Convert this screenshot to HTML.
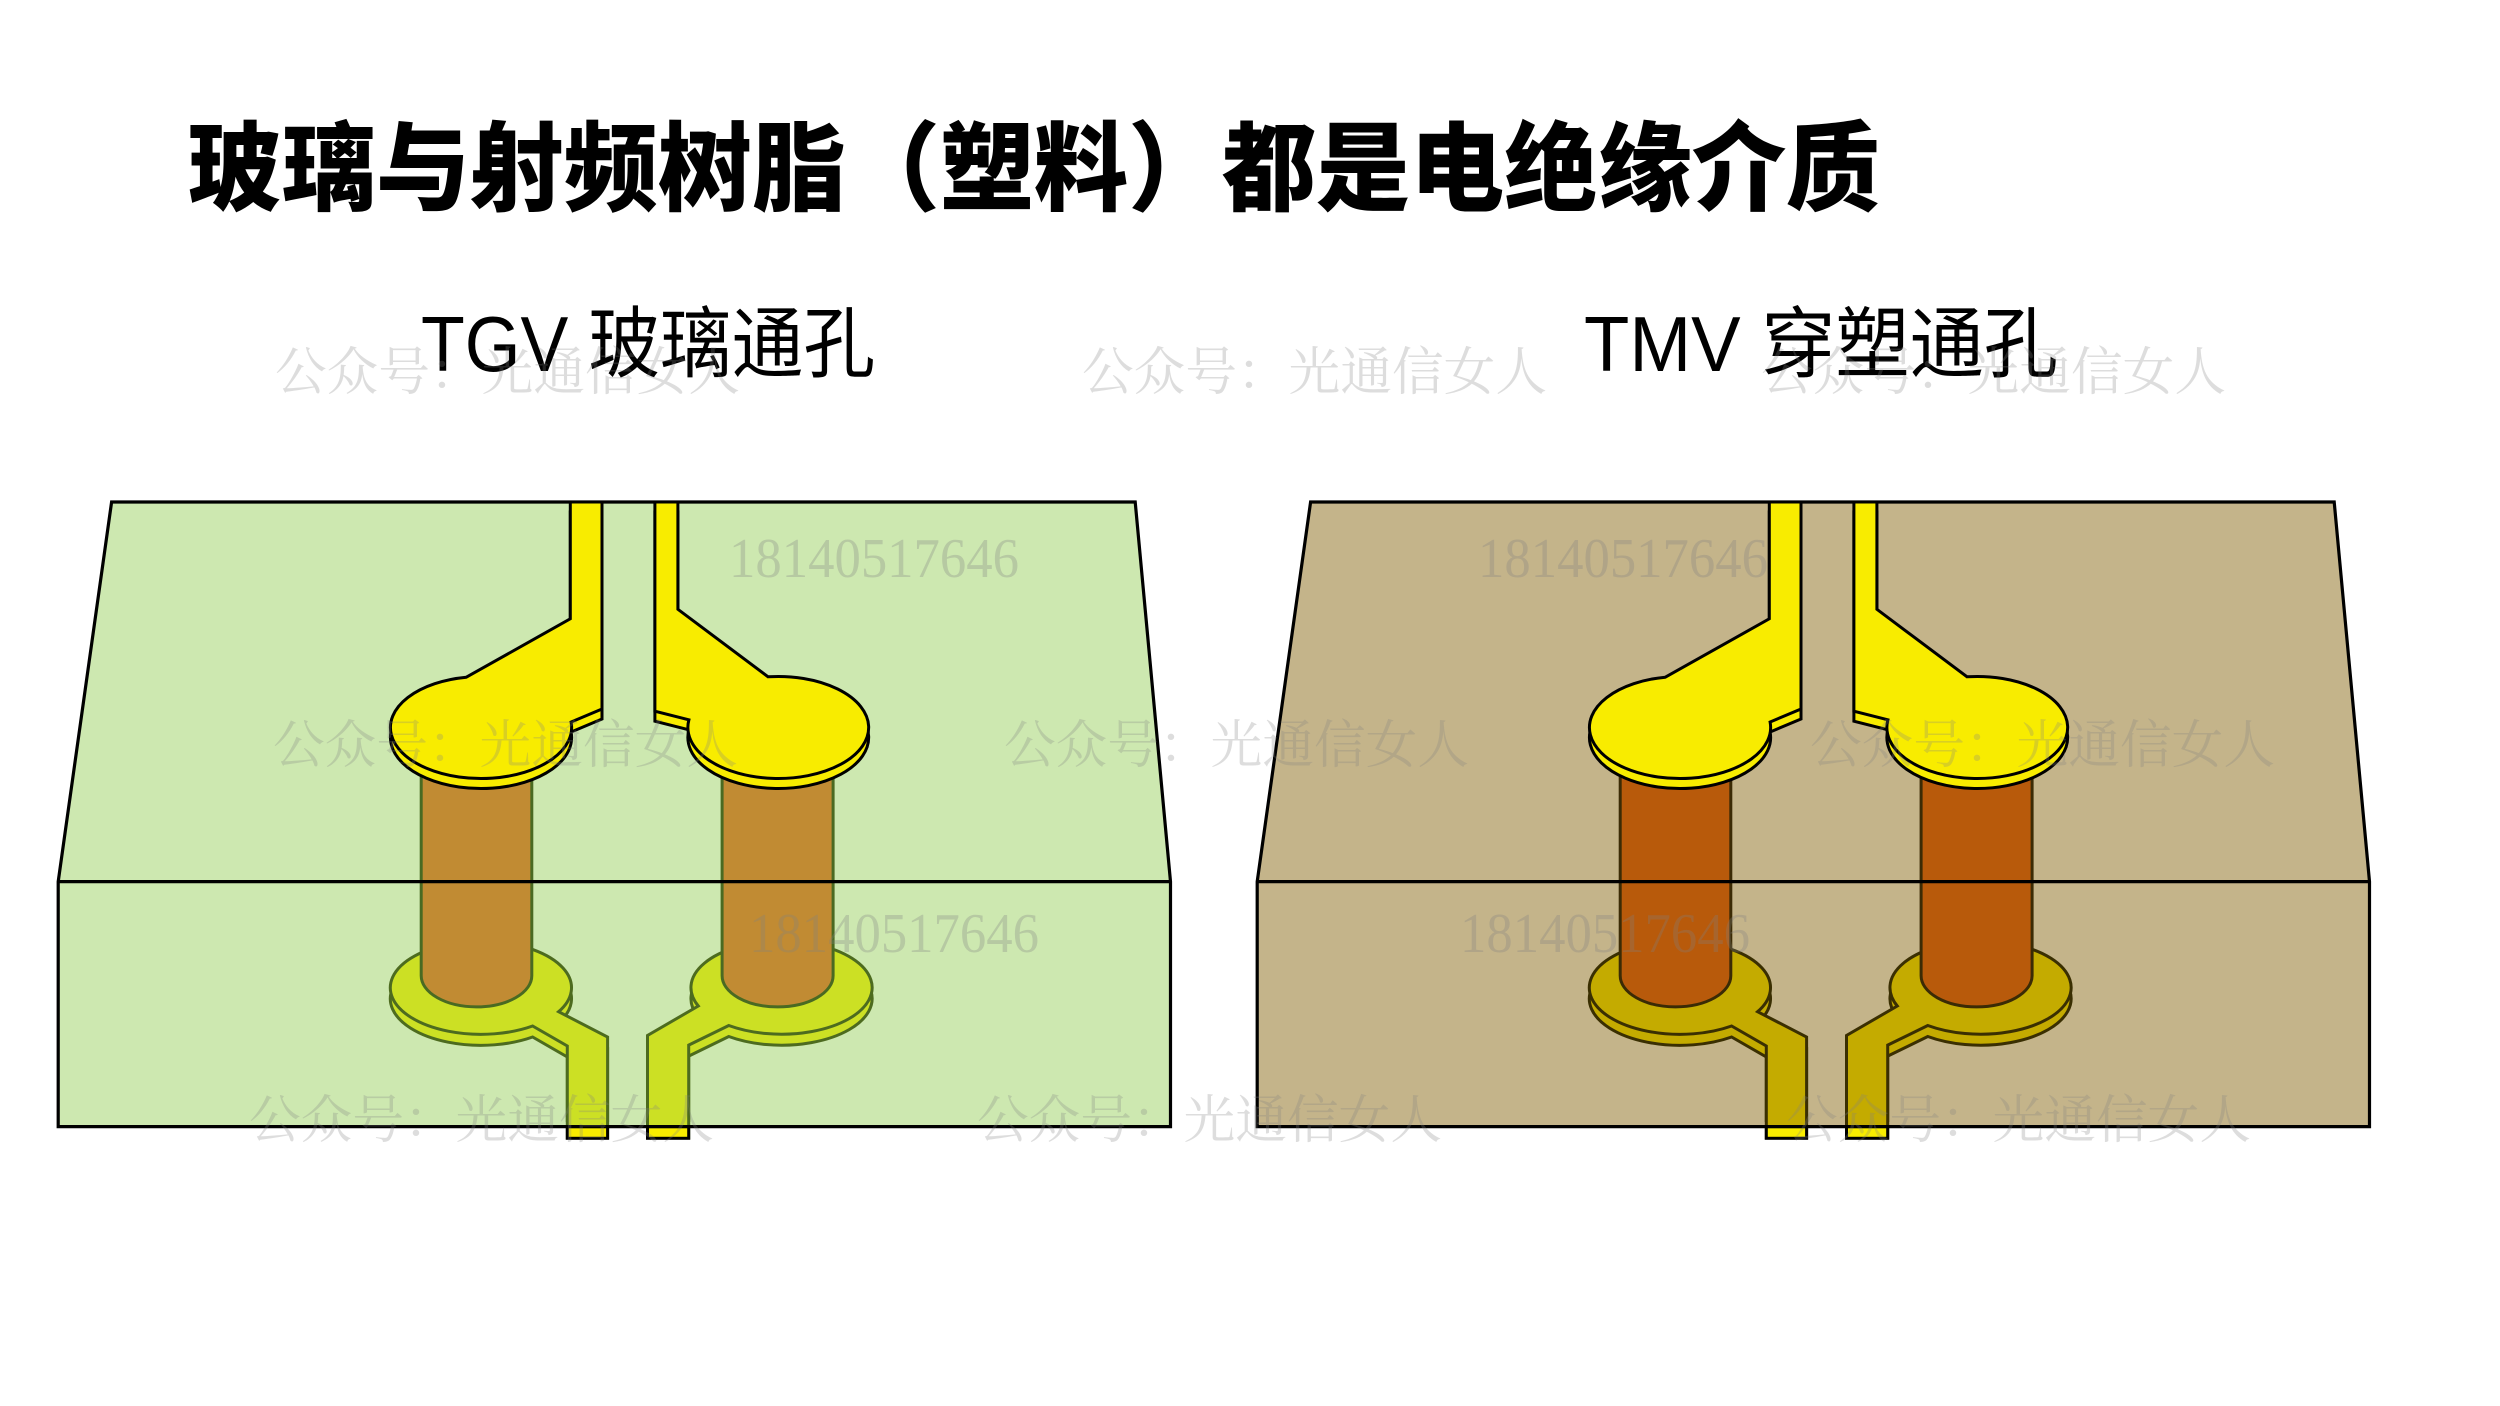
<!DOCTYPE html>
<html>
<head>
<meta charset="utf-8">
<style>
  html, body { margin:0; padding:0; background:#ffffff; }
  body { width:2500px; height:1406px; overflow:hidden; }
  svg { display:block; }
</style>
</head>
<body>
<svg width="2500" height="1406" viewBox="0 0 2500 1406" xmlns="http://www.w3.org/2000/svg">
  <defs>
    <path id="boxF" d="M111.6,502 L1135.2,502 L1170.5,881.6 L1170.5,1126.6 L58.2,1126.6 L58.2,881.6 Z"/>
    <path id="boxL" d="M58.2,881.6 L1170.5,881.6"/>
    <path id="bpA" d="M532.6,1026 A90.6,46.6 0 1 1 558.6,1011.7 L607.6,1037 L607.6,1138 L567.3,1138 L567.3,1046 Z"/>
    <path id="bpB" d="M728.8,1025.5 L688.7,1045.1 L688.7,1138 L647.5,1138 L647.5,1035.5 L698.3,1006 A90.6,46.6 0 1 1 728.8,1025.5 Z"/>
    <path id="brA" d="M421.2,760 L421.2,975.7 A55.3,31.2 0 0 0 531.8,975.7 L531.8,760 Z"/>
    <path id="brB" d="M722.1,760 L722.1,975.7 A55.5,31.2 0 0 0 833.1,975.7 L833.1,760 Z"/>
    <path id="tpA" d="M466.3,677.2 L570.3,618.8 L570.3,502 L602,502 L602,709 L571.1,722 A90.6,51 0 1 1 466.3,677.2 Z"/>
    <path id="tpB" d="M654.9,502 L677.9,502 L677.9,609.3 L768.1,676.8 A90.4,51 0 1 1 688.9,719.8 L654.9,711.2 Z"/>
    <rect id="endA" x="567.3" y="1126.6" width="40.3" height="11.7"/>
    <rect id="endB" x="647.5" y="1126.6" width="41.2" height="11.7"/>
    <clipPath id="clipBot" clipPathUnits="userSpaceOnUse">
      <rect x="-5000" y="0" width="10000" height="1122"/>
    </clipPath>
  </defs>

  <!-- Title -->
  <text x="188" y="203" font-size="97" font-weight="900" textLength="1692" lengthAdjust="spacingAndGlyphs"
        font-family="'Liberation Sans', 'Noto Sans CJK SC', sans-serif" fill="#000">玻璃与射频树脂（塑料）都是电绝缘介质</text>

  <!-- Subtitles -->
  <text x="421" y="371" font-size="78" textLength="454" lengthAdjust="spacingAndGlyphs"
        font-family="'Liberation Sans', 'Noto Sans CJK SC', sans-serif" fill="#000">TGV 玻璃通孔</text>
  <text x="1584" y="371" font-size="78" textLength="474" lengthAdjust="spacingAndGlyphs"
        font-family="'Liberation Sans', 'Noto Sans CJK SC', sans-serif" fill="#000">TMV 穿塑通孔</text>

  <!-- LEFT DIAGRAM (glass) -->
  <g>
    <use href="#boxF" fill="#cde8b0"/>
    <g clip-path="url(#clipBot)">
      <use href="#bpA" transform="translate(0,11)" fill="#cce024" stroke="#4d6b1f" stroke-width="3"/>
      <use href="#bpB" transform="translate(0,11)" fill="#cce024" stroke="#4d6b1f" stroke-width="3"/>
    </g>
    <use href="#bpA" fill="#cce024" stroke="#4d6b1f" stroke-width="3"/>
    <use href="#bpB" fill="#cce024" stroke="#4d6b1f" stroke-width="3"/>
    <use href="#brA" fill="#c18b33" stroke="#4a6a22" stroke-width="3"/>
    <use href="#brB" fill="#c18b33" stroke="#4a6a22" stroke-width="3"/>
    <use href="#endA" fill="#f8ec00" stroke="#000" stroke-width="3"/>
    <use href="#endB" fill="#f8ec00" stroke="#000" stroke-width="3"/>
    <use href="#boxF" fill="none" stroke="#000" stroke-width="3.2"/>
    <use href="#boxL" fill="none" stroke="#000" stroke-width="3.2"/>
    <use href="#tpA" transform="translate(0,10)" fill="#f8ec00" stroke="#000" stroke-width="3"/>
    <use href="#tpA" fill="#f8ec00" stroke="#000" stroke-width="3"/>
    <use href="#tpB" transform="translate(0,10)" fill="#f8ec00" stroke="#000" stroke-width="3"/>
    <use href="#tpB" fill="#f8ec00" stroke="#000" stroke-width="3"/>
  </g>

  <!-- RIGHT DIAGRAM (resin) -->
  <g transform="translate(1199,0)">
    <use href="#boxF" fill="#c4b48a"/>
    <g clip-path="url(#clipBot)">
      <use href="#bpA" transform="translate(0,11)" fill="#c4ab00" stroke="#3a2f02" stroke-width="3"/>
      <use href="#bpB" transform="translate(0,11)" fill="#c4ab00" stroke="#3a2f02" stroke-width="3"/>
    </g>
    <use href="#bpA" fill="#c4ab00" stroke="#3a2f02" stroke-width="3"/>
    <use href="#bpB" fill="#c4ab00" stroke="#3a2f02" stroke-width="3"/>
    <use href="#brA" fill="#b85a0b" stroke="#3b2b05" stroke-width="3"/>
    <use href="#brB" fill="#b85a0b" stroke="#3b2b05" stroke-width="3"/>
    <use href="#endA" fill="#f8ec00" stroke="#000" stroke-width="3"/>
    <use href="#endB" fill="#f8ec00" stroke="#000" stroke-width="3"/>
    <use href="#boxF" fill="none" stroke="#000" stroke-width="3.2"/>
    <use href="#boxL" fill="none" stroke="#000" stroke-width="3.2"/>
    <use href="#tpA" transform="translate(0,10)" fill="#f8ec00" stroke="#000" stroke-width="3"/>
    <use href="#tpA" fill="#f8ec00" stroke="#000" stroke-width="3"/>
    <use href="#tpB" transform="translate(0,10)" fill="#f8ec00" stroke="#000" stroke-width="3"/>
    <use href="#tpB" fill="#f8ec00" stroke="#000" stroke-width="3"/>
  </g>

  <!-- Watermarks -->
  <g fill="#808080" fill-opacity="0.27" font-family="'Liberation Serif', 'Noto Serif CJK SC', serif" font-size="52">
    <text x="275" y="390" textLength="465" lengthAdjust="spacingAndGlyphs">公众号：光通信女人</text>
    <text x="1082" y="390" textLength="465" lengthAdjust="spacingAndGlyphs">公众号：光通信女人</text>
    <text x="1761" y="390" textLength="465" lengthAdjust="spacingAndGlyphs">公众号：光通信女人</text>

    <text x="273" y="763" textLength="465" lengthAdjust="spacingAndGlyphs">公众号：光通信女人</text>
    <text x="1004" y="763" textLength="465" lengthAdjust="spacingAndGlyphs">公众号：光通信女人</text>
    <text x="1810" y="763" textLength="465" lengthAdjust="spacingAndGlyphs">公众号：光通信女人</text>

    <text x="249" y="1138" textLength="465" lengthAdjust="spacingAndGlyphs">公众号：光通信女人</text>
    <text x="977" y="1138" textLength="465" lengthAdjust="spacingAndGlyphs">公众号：光通信女人</text>
    <text x="1786" y="1138" textLength="465" lengthAdjust="spacingAndGlyphs">公众号：光通信女人</text>
  </g>
  <g fill="#808080" fill-opacity="0.3" font-family="'Liberation Serif', serif" font-size="56">
    <text x="729" y="577" textLength="290" lengthAdjust="spacingAndGlyphs">18140517646</text>
    <text x="749" y="952" textLength="290" lengthAdjust="spacingAndGlyphs">18140517646</text>
    <text x="1478" y="577" textLength="290" lengthAdjust="spacingAndGlyphs">18140517646</text>
    <text x="1460" y="952" textLength="290" lengthAdjust="spacingAndGlyphs">18140517646</text>
  </g>
</svg>
</body>
</html>
